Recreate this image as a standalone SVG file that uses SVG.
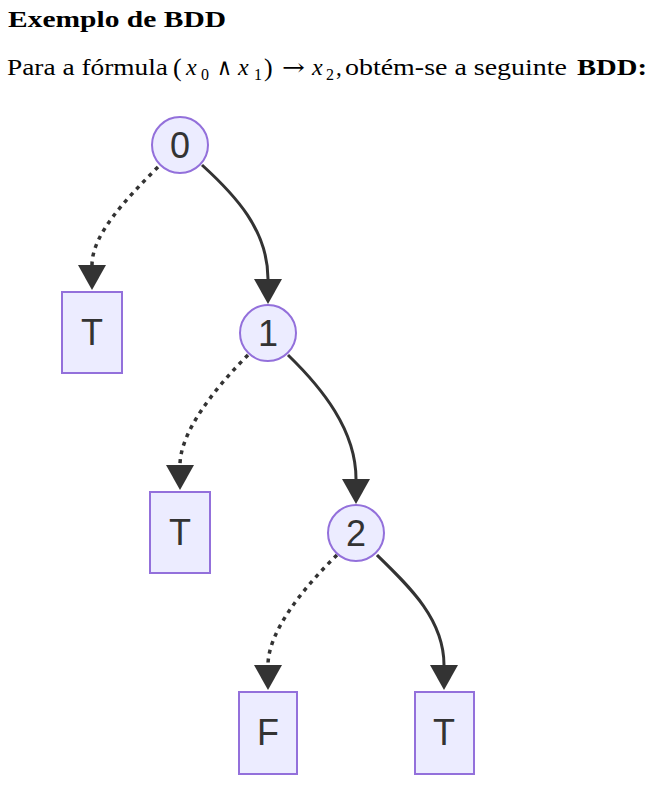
<svg xmlns="http://www.w3.org/2000/svg" width="653" height="785" viewBox="0 0 653 785">
<style>
.hd{font-family:"Liberation Serif","DejaVu Serif",serif;font-size:23px;font-weight:bold;fill:#000}
.tx{font-family:"Liberation Serif","DejaVu Serif",serif;font-size:23px;fill:#000}
.it{font-style:italic;font-size:24px}
.sb{font-size:16px}
.pr{font-size:26px}
.sym{font-family:"DejaVu Serif","Liberation Serif",serif;font-size:23px}
.node rect,.node circle{fill:#ECECFF;stroke:#9370DB;stroke-width:2}
.node text{font-family:"Liberation Sans",Arial,sans-serif;font-size:36px;fill:#333;text-anchor:middle}
.edge{fill:none;stroke:#333;stroke-width:3}
.dot{stroke-width:3.5;stroke-dasharray:4 5}
</style>
<defs>
<marker id="arr" viewBox="0 0 25 28" refX="0" refY="14" markerWidth="25" markerHeight="28" markerUnits="userSpaceOnUse" orient="auto">
<path d="M0,0 L25,14 L0,28 z" fill="#333"/>
</marker>
</defs>
<text class="hd" x="8" y="27" textLength="218" lengthAdjust="spacingAndGlyphs">Exemplo de BDD</text>
<g id="caption">
<text class="tx" x="7" y="75" textLength="161" lengthAdjust="spacingAndGlyphs">Para a fórmula</text>
<text class="tx pr" x="173" y="76">(</text>
<text class="tx it" x="186" y="75">x</text>
<text class="tx sb" x="201" y="80">0</text>
<text class="tx sym" x="217" y="75" textLength="15" lengthAdjust="spacingAndGlyphs">∧</text>
<text class="tx it" x="238" y="75">x</text>
<text class="tx sb" x="254" y="80">1</text>
<text class="tx pr" x="264" y="76">)</text>
<text class="tx sym" x="282" y="75" textLength="23" lengthAdjust="spacingAndGlyphs">→</text>
<text class="tx it" x="312" y="75">x</text>
<text class="tx sb" x="326" y="80">2</text>
<text class="tx" x="336" y="75">,</text>
<text class="tx" x="345" y="75" textLength="222" lengthAdjust="spacingAndGlyphs">obtém-se a seguinte</text>
<text class="hd" x="577" y="75" textLength="70" lengthAdjust="spacingAndGlyphs">BDD:</text>
</g>
<g id="edges">
<path class="edge dot" d="M158,167 C125,200 92,235 92,265" marker-end="url(#arr)"/>
<path class="edge" d="M202,165 C235,195 268,230 268,279" marker-end="url(#arr)"/>
<path class="edge dot" d="M248,355 C215,388 180,432 180,465" marker-end="url(#arr)"/>
<path class="edge" d="M288,355 C322,388 356,430 356,479" marker-end="url(#arr)"/>
<path class="edge dot" d="M337,555 C303,588 268,632 268,665" marker-end="url(#arr)"/>
<path class="edge" d="M377,555 C411,588 444,620 444,665" marker-end="url(#arr)"/>
</g>
<g id="n0" class="node"><circle cx="180" cy="145" r="28"/><text x="180" y="158">0</text></g>
<g id="t0" class="node"><rect x="62" y="292" width="60" height="81"/><text x="92" y="345">T</text></g>
<g id="n1" class="node"><circle cx="268" cy="333" r="28"/><text x="268" y="346">1</text></g>
<g id="t1" class="node"><rect x="150" y="492" width="60" height="81"/><text x="180" y="545">T</text></g>
<g id="n2" class="node"><circle cx="356" cy="533" r="28"/><text x="356" y="546">2</text></g>
<g id="f2" class="node"><rect x="239" y="692" width="58" height="82"/><text x="268" y="745">F</text></g>
<g id="t2" class="node"><rect x="415" y="692" width="59" height="82"/><text x="444" y="745">T</text></g>
</svg>
